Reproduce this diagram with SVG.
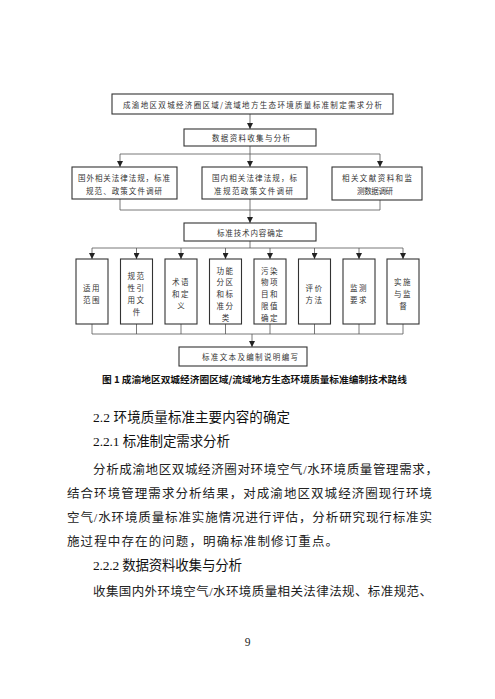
<svg xmlns="http://www.w3.org/2000/svg" width="495" height="699" viewBox="0 0 495 699">
<defs>
<marker id="ah" markerUnits="userSpaceOnUse" markerWidth="6" markerHeight="6" refX="3" refY="5" orient="auto-start-reverse" viewBox="0 0 6 6">
<path d="M0,0 L6,0 L3,5 Z" fill="#222" transform="rotate(-90 3 3) translate(0,0)"/>
</marker>
<marker id="arr" markerUnits="userSpaceOnUse" markerWidth="6" markerHeight="6" refX="6" refY="3" orient="auto" viewBox="0 0 6 6">
<path d="M0,0 L6,3 L0,6 Z" fill="#222"/>
</marker>
</defs>
<style>
.box{fill:#fff;stroke:#333;stroke-width:1.1}
.ln{fill:none;stroke:#555;stroke-width:0.8}
.t{font-family:"Noto Sans CJK SC","Liberation Sans",sans-serif;font-size:7.5px;fill:#333;text-anchor:middle;dominant-baseline:central}
.tl{font-family:"Noto Sans CJK SC","Liberation Sans",sans-serif;font-size:7.5px;fill:#333;dominant-baseline:central}
.cap{font-family:"Noto Sans CJK SC","Liberation Sans",sans-serif;font-size:9.5px;font-weight:bold;fill:#111;dominant-baseline:central}
.h{font-family:"Liberation Serif","Noto Sans CJK SC",serif;font-size:13.5px;fill:#111;dominant-baseline:central}
.b{font-family:"Liberation Serif","Noto Sans CJK SC",serif;font-size:12.5px;fill:#222;dominant-baseline:central}
</style>
<rect width="495" height="699" fill="#fff"/>

<g id="connectors">
<path class="ln" d="M250,114 V129" marker-end="url(#arr)"/>
<path class="ln" d="M250,146 V154 M120,154 H380"/>
<path class="ln" d="M120,154 V167" marker-end="url(#arr)"/>
<path class="ln" d="M250,154 V167" marker-end="url(#arr)"/>
<path class="ln" d="M380,154 V167" marker-end="url(#arr)"/>
<path class="ln" d="M120,199 V210 H380 V200"/>
<path class="ln" d="M250,199 V223" marker-end="url(#arr)"/>
<path class="ln" d="M250,241 V248 M92,248 H403"/>
<path class="ln" d="M92,248 V259" marker-end="url(#arr)"/>
<path class="ln" d="M136.5,248 V259" marker-end="url(#arr)"/>
<path class="ln" d="M181,248 V259" marker-end="url(#arr)"/>
<path class="ln" d="M225.5,248 V259" marker-end="url(#arr)"/>
<path class="ln" d="M270,248 V259" marker-end="url(#arr)"/>
<path class="ln" d="M314.5,248 V259" marker-end="url(#arr)"/>
<path class="ln" d="M359,248 V259" marker-end="url(#arr)"/>
<path class="ln" d="M403,248 V259" marker-end="url(#arr)"/>
<path class="ln" d="M92,324 V334 H403 M136.5,324 V334 M181,324 V334 M225.5,324 V334 M270,324 V334 M314.5,324 V334 M359,324 V334 M403,324 V334"/>
<path class="ln" d="M252,334 V347" marker-end="url(#arr)"/>
</g>

<g id="n-top">
<rect class="box" x="112" y="94" width="281" height="20"/>
<text class="tl" x="123" y="104" textLength="259" lengthAdjust="spacing">成渝地区双城经济圈区域/流域地方生态环境质量标准制定需求分析</text>
</g>
<g id="n-data">
<rect class="box" x="184" y="129" width="132" height="17"/>
<text class="tl" x="212" y="137.5" textLength="78" lengthAdjust="spacing">数据资料收集与分析</text>
</g>
<g id="n-foreign">
<rect class="box" x="72" y="167" width="105" height="32"/>
<text class="tl" x="78" y="177" textLength="92" lengthAdjust="spacing">国外相关法律法规，标准</text>
<text class="tl" x="86" y="190" textLength="76" lengthAdjust="spacing">规范、政策文件调研</text>
</g>
<g id="n-domestic">
<rect class="box" x="202" y="167" width="105" height="32"/>
<text class="tl" x="212" y="177" textLength="85" lengthAdjust="spacing">国内相关法律法规，标</text>
<text class="tl" x="214" y="190" textLength="79" lengthAdjust="spacing">准规范政策文件调研</text>
</g>
<g id="n-lit">
<rect class="box" x="332" y="167" width="90" height="33"/>
<text class="tl" x="342" y="177" textLength="70" lengthAdjust="spacing">相关文献资料和监</text>
<text class="tl" x="357" y="190" textLength="36" lengthAdjust="spacing">测数据调研</text>
</g>
<g id="n-tech">
<rect class="box" x="184" y="223" width="132" height="18"/>
<text class="tl" x="217" y="232.5" textLength="66" lengthAdjust="spacing">标准技术内容确定</text>
</g>

<g id="n-scope">
<rect class="box" x="76" y="259" width="32" height="65"/>
<text class="t" x="92" y="287.6" letter-spacing="1.5">适用</text>
<text class="t" x="92" y="299.4" letter-spacing="1.5">范围</text>
</g>
<g id="n-ref">
<rect class="box" x="120.5" y="259" width="32" height="65"/>
<text class="t" x="136.5" y="275.9" letter-spacing="1.5">规范</text>
<text class="t" x="136.5" y="287.6" letter-spacing="1.5">性引</text>
<text class="t" x="136.5" y="299.4" letter-spacing="1.5">用文</text>
<text class="t" x="136.5" y="311.1">件</text>
</g>
<g id="n-terms">
<rect class="box" x="165" y="259" width="32" height="65"/>
<text class="t" x="181" y="281.75" letter-spacing="1.5">术语</text>
<text class="t" x="181" y="293.5" letter-spacing="1.5">和定</text>
<text class="t" x="181" y="305.25">义</text>
</g>
<g id="n-zone">
<rect class="box" x="209.5" y="259" width="32" height="65"/>
<text class="t" x="225.5" y="270" letter-spacing="1.5">功能</text>
<text class="t" x="225.5" y="281.75" letter-spacing="1.5">分区</text>
<text class="t" x="225.5" y="293.5" letter-spacing="1.5">和标</text>
<text class="t" x="225.5" y="305.25" letter-spacing="1.5">准分</text>
<text class="t" x="225.5" y="317">类</text>
</g>
<g id="n-pollut">
<rect class="box" x="254" y="259" width="32" height="65"/>
<text class="t" x="270" y="270" letter-spacing="1.5">污染</text>
<text class="t" x="270" y="281.75" letter-spacing="1.5">物项</text>
<text class="t" x="270" y="293.5" letter-spacing="1.5">目和</text>
<text class="t" x="270" y="305.25" letter-spacing="1.5">限值</text>
<text class="t" x="270" y="317" letter-spacing="1.5">确定</text>
</g>
<g id="n-eval">
<rect class="box" x="298.5" y="259" width="32" height="65"/>
<text class="t" x="314.5" y="287.6" letter-spacing="1.5">评价</text>
<text class="t" x="314.5" y="299.4" letter-spacing="1.5">方法</text>
</g>
<g id="n-monitor">
<rect class="box" x="343" y="259" width="32" height="65"/>
<text class="t" x="359" y="287.6" letter-spacing="1.5">监测</text>
<text class="t" x="359" y="299.4" letter-spacing="1.5">要求</text>
</g>
<g id="n-impl">
<rect class="box" x="387" y="259" width="32" height="65"/>
<text class="t" x="403" y="281.75" letter-spacing="1.5">实施</text>
<text class="t" x="403" y="293.5" letter-spacing="1.5">与监</text>
<text class="t" x="403" y="305.25">督</text>
</g>
<g id="n-final">
<rect class="box" x="179" y="347" width="128" height="19"/>
<text class="tl" x="202" y="356.5" textLength="96" lengthAdjust="spacing">标准文本及编制说明编写</text>
</g>

<text class="cap" x="102" y="379" textLength="305" lengthAdjust="spacingAndGlyphs">图 1 成渝地区双城经济圈区域/流域地方生态环境质量标准编制技术路线</text>

<text class="h" x="93" y="417" textLength="197" lengthAdjust="spacing">2.2 环境质量标准主要内容的确定</text>
<text class="h" x="93" y="441" textLength="137" lengthAdjust="spacing">2.2.1 标准制定需求分析</text>
<text class="b" x="93" y="470" textLength="345" lengthAdjust="spacing">分析成渝地区双城经济圈对环境空气/水环境质量管理需求，</text>
<text class="b" x="67" y="494" textLength="365" lengthAdjust="spacing">结合环境管理需求分析结果，对成渝地区双城经济圈现行环境</text>
<text class="b" x="67" y="518" textLength="365" lengthAdjust="spacing">空气/水环境质量标准实施情况进行评估，分析研究现行标准实</text>
<text class="b" x="67" y="542" textLength="271" lengthAdjust="spacing">施过程中存在的问题，明确标准制修订重点。</text>
<text class="h" x="93" y="565" textLength="149" lengthAdjust="spacing">2.2.2 数据资料收集与分析</text>
<text class="b" x="93" y="592" textLength="339" lengthAdjust="spacing">收集国内外环境空气/水环境质量相关法律法规、标准规范、</text>
<text x="247.5" y="642" font-family="Liberation Serif, serif" font-size="11.5" fill="#222" text-anchor="middle" dominant-baseline="central">9</text>
</svg>
